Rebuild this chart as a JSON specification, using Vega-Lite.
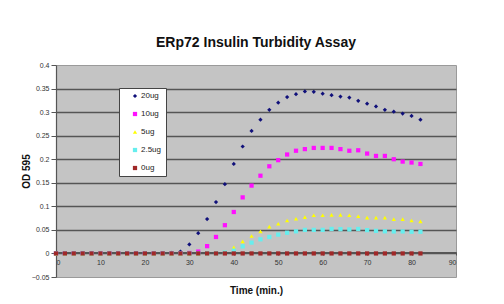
{
  "$schema": "https://vega.github.io/schema/vega-lite/v6.json",
  "width": 400,
  "height": 212,
  "autosize": {"type": "none"},
  "padding": {"left": 56, "top": 65, "right": 48, "bottom": 27},
  "background": "white",
  "title": {"text": "ERp72 Insulin Turbidity Assay", "font": "Liberation Sans", "fontSize": 14, "fontWeight": "bold", "color": "#111", "anchor": "middle", "offset": 11},
  "datasets": {
    "od": [
      {"t":0,"s":"20ug","v":0},{"t":2,"s":"20ug","v":0},{"t":4,"s":"20ug","v":0},{"t":6,"s":"20ug","v":0},{"t":8,"s":"20ug","v":0},{"t":10,"s":"20ug","v":0},{"t":12,"s":"20ug","v":0},{"t":14,"s":"20ug","v":0},{"t":16,"s":"20ug","v":0},{"t":18,"s":"20ug","v":0},{"t":20,"s":"20ug","v":0},{"t":22,"s":"20ug","v":0},{"t":24,"s":"20ug","v":0},{"t":26,"s":"20ug","v":0.001},{"t":28,"s":"20ug","v":0.004},{"t":30,"s":"20ug","v":0.019},{"t":32,"s":"20ug","v":0.043},{"t":34,"s":"20ug","v":0.073},{"t":36,"s":"20ug","v":0.109},{"t":38,"s":"20ug","v":0.147},{"t":40,"s":"20ug","v":0.19},{"t":42,"s":"20ug","v":0.227},{"t":44,"s":"20ug","v":0.26},{"t":46,"s":"20ug","v":0.284},{"t":48,"s":"20ug","v":0.305},{"t":50,"s":"20ug","v":0.32},{"t":52,"s":"20ug","v":0.332},{"t":54,"s":"20ug","v":0.338},{"t":56,"s":"20ug","v":0.344},{"t":58,"s":"20ug","v":0.343},{"t":60,"s":"20ug","v":0.339},{"t":62,"s":"20ug","v":0.336},{"t":64,"s":"20ug","v":0.333},{"t":66,"s":"20ug","v":0.331},{"t":68,"s":"20ug","v":0.324},{"t":70,"s":"20ug","v":0.318},{"t":72,"s":"20ug","v":0.312},{"t":74,"s":"20ug","v":0.305},{"t":76,"s":"20ug","v":0.301},{"t":78,"s":"20ug","v":0.297},{"t":80,"s":"20ug","v":0.292},{"t":82,"s":"20ug","v":0.284},
      {"t":0,"s":"10ug","v":0},{"t":2,"s":"10ug","v":0},{"t":4,"s":"10ug","v":0},{"t":6,"s":"10ug","v":0},{"t":8,"s":"10ug","v":0},{"t":10,"s":"10ug","v":0},{"t":12,"s":"10ug","v":0},{"t":14,"s":"10ug","v":0},{"t":16,"s":"10ug","v":0},{"t":18,"s":"10ug","v":0},{"t":20,"s":"10ug","v":0},{"t":22,"s":"10ug","v":0},{"t":24,"s":"10ug","v":0},{"t":26,"s":"10ug","v":0},{"t":28,"s":"10ug","v":0},{"t":30,"s":"10ug","v":0.001},{"t":32,"s":"10ug","v":0.004},{"t":34,"s":"10ug","v":0.0155},{"t":36,"s":"10ug","v":0.035},{"t":38,"s":"10ug","v":0.06},{"t":40,"s":"10ug","v":0.088},{"t":42,"s":"10ug","v":0.119},{"t":44,"s":"10ug","v":0.144},{"t":46,"s":"10ug","v":0.165},{"t":48,"s":"10ug","v":0.185},{"t":50,"s":"10ug","v":0.198},{"t":52,"s":"10ug","v":0.21},{"t":54,"s":"10ug","v":0.218},{"t":56,"s":"10ug","v":0.2215},{"t":58,"s":"10ug","v":0.224},{"t":60,"s":"10ug","v":0.224},{"t":62,"s":"10ug","v":0.224},{"t":64,"s":"10ug","v":0.2215},{"t":66,"s":"10ug","v":0.218},{"t":68,"s":"10ug","v":0.219},{"t":70,"s":"10ug","v":0.212},{"t":72,"s":"10ug","v":0.207},{"t":74,"s":"10ug","v":0.207},{"t":76,"s":"10ug","v":0.2},{"t":78,"s":"10ug","v":0.195},{"t":80,"s":"10ug","v":0.193},{"t":82,"s":"10ug","v":0.19},
      {"t":0,"s":"5ug","v":-0.001},{"t":2,"s":"5ug","v":-0.001},{"t":4,"s":"5ug","v":-0.001},{"t":6,"s":"5ug","v":-0.001},{"t":8,"s":"5ug","v":-0.001},{"t":10,"s":"5ug","v":-0.001},{"t":12,"s":"5ug","v":-0.001},{"t":14,"s":"5ug","v":-0.001},{"t":16,"s":"5ug","v":-0.001},{"t":18,"s":"5ug","v":-0.001},{"t":20,"s":"5ug","v":-0.001},{"t":22,"s":"5ug","v":-0.001},{"t":24,"s":"5ug","v":-0.001},{"t":26,"s":"5ug","v":-0.001},{"t":28,"s":"5ug","v":-0.001},{"t":30,"s":"5ug","v":-0.001},{"t":32,"s":"5ug","v":-0.001},{"t":34,"s":"5ug","v":0},{"t":36,"s":"5ug","v":0},{"t":38,"s":"5ug","v":0.003},{"t":40,"s":"5ug","v":0.013},{"t":42,"s":"5ug","v":0.0255},{"t":44,"s":"5ug","v":0.037},{"t":46,"s":"5ug","v":0.047},{"t":48,"s":"5ug","v":0.057},{"t":50,"s":"5ug","v":0.063},{"t":52,"s":"5ug","v":0.07},{"t":54,"s":"5ug","v":0.0736},{"t":56,"s":"5ug","v":0.077},{"t":58,"s":"5ug","v":0.081},{"t":60,"s":"5ug","v":0.081},{"t":62,"s":"5ug","v":0.082},{"t":64,"s":"5ug","v":0.082},{"t":66,"s":"5ug","v":0.081},{"t":68,"s":"5ug","v":0.079},{"t":70,"s":"5ug","v":0.076},{"t":72,"s":"5ug","v":0.076},{"t":74,"s":"5ug","v":0.076},{"t":76,"s":"5ug","v":0.073},{"t":78,"s":"5ug","v":0.073},{"t":80,"s":"5ug","v":0.07},{"t":82,"s":"5ug","v":0.068},
      {"t":0,"s":"2.5ug","v":0},{"t":2,"s":"2.5ug","v":0},{"t":4,"s":"2.5ug","v":0},{"t":6,"s":"2.5ug","v":0},{"t":8,"s":"2.5ug","v":0},{"t":10,"s":"2.5ug","v":0},{"t":12,"s":"2.5ug","v":0},{"t":14,"s":"2.5ug","v":0},{"t":16,"s":"2.5ug","v":0},{"t":18,"s":"2.5ug","v":0},{"t":20,"s":"2.5ug","v":0},{"t":22,"s":"2.5ug","v":0},{"t":24,"s":"2.5ug","v":0},{"t":26,"s":"2.5ug","v":0},{"t":28,"s":"2.5ug","v":0},{"t":30,"s":"2.5ug","v":0},{"t":32,"s":"2.5ug","v":0},{"t":34,"s":"2.5ug","v":0},{"t":36,"s":"2.5ug","v":0},{"t":38,"s":"2.5ug","v":0.002},{"t":40,"s":"2.5ug","v":0.006},{"t":42,"s":"2.5ug","v":0.015},{"t":44,"s":"2.5ug","v":0.023},{"t":46,"s":"2.5ug","v":0.03},{"t":48,"s":"2.5ug","v":0.035},{"t":50,"s":"2.5ug","v":0.04},{"t":52,"s":"2.5ug","v":0.044},{"t":54,"s":"2.5ug","v":0.047},{"t":56,"s":"2.5ug","v":0.05},{"t":58,"s":"2.5ug","v":0.05},{"t":60,"s":"2.5ug","v":0.05},{"t":62,"s":"2.5ug","v":0.052},{"t":64,"s":"2.5ug","v":0.0516},{"t":66,"s":"2.5ug","v":0.051},{"t":68,"s":"2.5ug","v":0.052},{"t":70,"s":"2.5ug","v":0.0495},{"t":72,"s":"2.5ug","v":0.048},{"t":74,"s":"2.5ug","v":0.047},{"t":76,"s":"2.5ug","v":0.0467},{"t":78,"s":"2.5ug","v":0.0467},{"t":80,"s":"2.5ug","v":0.046},{"t":82,"s":"2.5ug","v":0.046},
      {"t":0,"s":"0ug","v":0},{"t":2,"s":"0ug","v":0},{"t":4,"s":"0ug","v":0},{"t":6,"s":"0ug","v":0},{"t":8,"s":"0ug","v":0},{"t":10,"s":"0ug","v":0},{"t":12,"s":"0ug","v":0},{"t":14,"s":"0ug","v":0},{"t":16,"s":"0ug","v":0},{"t":18,"s":"0ug","v":0},{"t":20,"s":"0ug","v":0},{"t":22,"s":"0ug","v":0},{"t":24,"s":"0ug","v":0},{"t":26,"s":"0ug","v":0},{"t":28,"s":"0ug","v":0},{"t":30,"s":"0ug","v":0},{"t":32,"s":"0ug","v":0},{"t":34,"s":"0ug","v":0},{"t":36,"s":"0ug","v":0},{"t":38,"s":"0ug","v":0},{"t":40,"s":"0ug","v":0},{"t":42,"s":"0ug","v":0},{"t":44,"s":"0ug","v":0},{"t":46,"s":"0ug","v":0},{"t":48,"s":"0ug","v":0},{"t":50,"s":"0ug","v":0},{"t":52,"s":"0ug","v":0},{"t":54,"s":"0ug","v":0},{"t":56,"s":"0ug","v":0},{"t":58,"s":"0ug","v":0},{"t":60,"s":"0ug","v":0},{"t":62,"s":"0ug","v":0},{"t":64,"s":"0ug","v":0},{"t":66,"s":"0ug","v":0},{"t":68,"s":"0ug","v":0},{"t":70,"s":"0ug","v":0},{"t":72,"s":"0ug","v":0},{"t":74,"s":"0ug","v":0},{"t":76,"s":"0ug","v":0},{"t":78,"s":"0ug","v":0},{"t":80,"s":"0ug","v":0},{"t":82,"s":"0ug","v":0}
    ]
  },
  "data": {"name": "od"},
  "mark": {"type": "point", "filled": true, "opacity": 1, "size": 18},
  "encoding": {
    "x": {
      "field": "t", "type": "quantitative",
      "scale": {"domain": [0, 90], "nice": false, "zero": false},
      "axis": {"title": "Time (min.)", "values": [0,10,20,30,40,50,60,70,80,90], "offset": -25, "grid": false, "tickSize": 3, "labelPadding": 3, "titlePadding": 20}
    },
    "y": {
      "field": "v", "type": "quantitative",
      "scale": {"domain": [-0.05, 0.4], "nice": false, "zero": false},
      "axis": {"title": "OD 595", "values": [-0.05,0,0.05,0.1,0.15,0.2,0.25,0.3,0.35,0.4], "format": "~g", "tickSize": 5, "labelPadding": 2, "titlePadding": 0, "grid": true,
        "gridColor": {"condition": {"test": "datum.value < -0.04 || datum.value > 0.39", "value": "transparent"}, "value": "#555555"}, "gridWidth": 1.3}
    },
    "color": {
      "field": "s", "type": "nominal",
      "scale": {"domain": ["20ug","10ug","5ug","2.5ug","0ug"], "range": ["#10107a","#ff10ff","#ffff00","#66eeee","#a02828"]},
      "legend": {"orient": "none", "legendX": 63, "legendY": 23, "title": null, "fillColor": "white", "strokeColor": "#444", "padding": 4, "rowPadding": 10, "symbolSize": 18, "symbolOffset": 8, "labelOffset": 2, "labelFontSize": 8, "labelFont": "Liberation Sans", "labelColor": "#222", "labelExpr": "datum.label + '\u00a0\u00a0\u00a0\u00a0\u00a0'"}
    },
    "shape": {
      "field": "s", "type": "nominal",
      "scale": {"domain": ["20ug","10ug","5ug","2.5ug","0ug"], "range": ["diamond","square","triangle-up","square","square"]},
      "legend": null
    }
  },
  "config": {
    "view": {"fill": "#c4c4c4", "stroke": "#9a9a9a"},
    "axis": {"labelFont": "Liberation Sans", "labelFontSize": 7, "labelColor": "#333", "titleFont": "Liberation Sans", "titleFontSize": 10, "titleFontWeight": "bold", "titleColor": "#111", "domainColor": "#555", "tickColor": "#555", "domainWidth": 1.2}
  }
}
